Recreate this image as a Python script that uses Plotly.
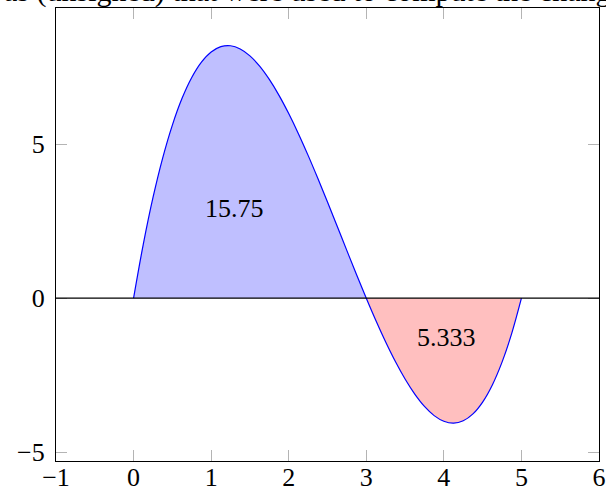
import plotly.graph_objects as go

# Values
x_vals = [0, 0.125, 0.25, 0.375, 0.5, 0.625, 0.75, 0.875, 1.0, 1.125, 1.25, 1.375, 1.5,
          1.625, 1.75, 1.875, 2.0, 2.125, 2.25, 2.375, 2.5, 2.625, 2.75, 2.875, 3.0,
          3.125, 3.25, 3.375, 3.5, 3.625, 3.75, 3.875, 4.0, 4.125, 4.25, 4.375, 4.5,
          4.625, 4.75, 4.875, 5.0]
y_vals = [0, 1.752, 3.266, 4.553, 5.625, 6.494, 7.172, 7.670, 8.0, 8.174, 8.203, 8.100, 7.875,
          7.541, 7.109, 6.592, 6.0, 5.346, 4.641, 3.897, 3.125, 2.338, 1.547, 0.764, 0,
          -0.732, -1.422, -2.057, -2.625, -3.115, -3.516, -3.815, -4.0, -4.061, -3.984,
          -3.760, -3.375, -2.818, -2.078, -1.143, 0]
split_index = 24  # x = 3 root
area_labels = ["15.75", "5.333"]
label_x = [1.3, 4.04]
label_y = [2.92, -1.28]
x_ticks = [-1, 0, 1, 2, 3, 4, 5, 6]
y_ticks = [-5, 0, 5]
title_text = "as (unsigned) that were used to compute the change"

FONT = "Liberation Serif"

fig = go.Figure()
fig.add_trace(go.Scatter(x=x_vals[:split_index + 1], y=y_vals[:split_index + 1],
                         mode="lines", line=dict(width=0, shape="spline"),
                         fill="tozeroy", fillcolor="#bfbfff", hoverinfo="skip"))
fig.add_trace(go.Scatter(x=x_vals[split_index:], y=y_vals[split_index:],
                         mode="lines", line=dict(width=0, shape="spline"),
                         fill="tozeroy", fillcolor="#ffbfbf", hoverinfo="skip"))
fig.add_trace(go.Scatter(x=x_vals, y=y_vals, mode="lines",
                         line=dict(color="#0000ff", width=1.2, shape="spline")))

# horizontal line at y = 0 across the whole plot
fig.add_shape(type="line", xref="paper", yref="y", x0=0, x1=1, y0=0, y1=0,
              line=dict(color="black", width=1.2), layer="above")

for t, lx, ly in zip(area_labels, label_x, label_y):
    fig.add_annotation(x=lx, y=ly, text=t, showarrow=False,
                       font=dict(family=FONT, size=26, color="black"))

fig.add_annotation(xref="paper", yref="paper", x=-0.1, y=1.0, xanchor="left",
                   yanchor="bottom", text=title_text, showarrow=False, yshift=-2,
                   font=dict(family=FONT, size=30, color="black"))

axis_common = dict(showgrid=False, showline=True, linecolor="black", linewidth=1.2,
                   mirror="ticks", ticks="inside", ticklen=11, tickcolor="#b4b4b4",
                   tickwidth=1, automargin=False,
                   tickfont=dict(family=FONT, size=26, color="black"))
fig.update_xaxes(range=[-1, 6], tickvals=x_ticks, zeroline=False, ticklabelstandoff=-7,
                 **axis_common)
fig.update_yaxes(range=[-5.29, 9.43], tickvals=y_ticks, zeroline=False,
                 ticklabelstandoff=5, **axis_common)

fig.update_layout(width=606, height=493, margin=dict(l=56, r=7, t=8, b=32),
                  paper_bgcolor="white", plot_bgcolor="white", showlegend=False)

fig.write_html("out.html", config={"displayModeBar": False},
               post_script="document.body.style.margin='0';document.body.style.overflow='hidden';")
